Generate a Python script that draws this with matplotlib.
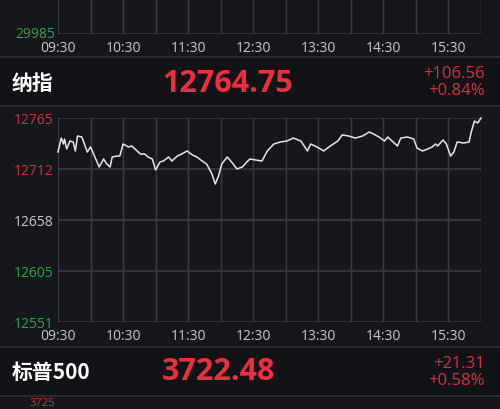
import matplotlib
matplotlib.use("Agg")
import matplotlib.pyplot as plt

# ---------------- data ----------------
minutes = [0, 3, 5, 6, 8, 11, 14, 16, 18, 22, 27, 30, 34, 38, 42, 45, 48, 50, 54, 57,
           60, 65, 68, 73, 76, 80, 83, 87, 90, 94, 97, 102, 105, 110, 114, 119, 124, 128,
           133, 137, 142, 145, 148, 151, 156, 160, 165, 170, 174, 177, 188, 193, 199, 205,
           211, 217, 224, 230, 233, 237, 242, 245, 251, 258, 262, 268, 274, 281, 287, 291,
           296, 301, 304, 308, 313, 316, 322, 328, 331, 336, 341, 345, 348, 350, 355, 358,
           362, 365, 368, 374, 379, 381, 384, 387, 390]
nasdaq = [12729.2, 12743.8, 12737.6, 12742.8, 12732.4, 12740.7, 12739.7, 12730.3, 12746.0,
          12744.9, 12729.2, 12734.5, 12724.0, 12713.6, 12721.9, 12716.7, 12713.6, 12724.0,
          12725.0, 12725.0, 12737.6, 12734.5, 12735.5, 12730.3, 12727.1, 12727.1, 12724.0,
          12721.9, 12710.4, 12718.8, 12719.8, 12724.0, 12719.8, 12725.0, 12727.1, 12730.3,
          12726.1, 12724.0, 12719.8, 12716.7, 12706.2, 12695.8, 12704.2, 12716.7, 12724.0,
          12718.8, 12711.5, 12713.6, 12718.8, 12721.9, 12719.8, 12730.3, 12737.6, 12739.7,
          12740.7, 12743.8, 12740.7, 12730.3, 12737.6, 12735.5, 12732.4, 12730.3, 12735.5,
          12740.7, 12747.0, 12746.0, 12743.8, 12746.0, 12750.1, 12748.0, 12744.9, 12740.7,
          12744.9, 12740.7, 12735.5, 12743.8, 12744.9, 12742.8, 12733.4, 12730.3, 12732.4,
          12734.5, 12737.6, 12735.5, 12741.8, 12737.6, 12725.0, 12729.2, 12739.7, 12738.6,
          12739.7, 12750.1, 12761.6, 12759.5, 12764.75]
prev_close = 12658.19
y_ticks = [12551.63, 12604.91, 12658.19, 12711.47, 12764.75]
y_labels = ["12551", "12605", "12658", "12712", "12765"]
x_labels = ["09:30", "10:30", "11:30", "12:30", "13:30", "14:30", "15:30"]

nq_name, nq_value, nq_change, nq_pct = "纳指", "12764.75", "+106.56", "+0.84%"
sp_name, sp_value, sp_change, sp_pct = "标普500", "3722.48", "+21.31", "+0.58%"
dow_bottom_label = "29985"
sp_top_label = "3725"

# ---------------- style ----------------
BG = "#16171c"
HDR = "#121317"
GRID = "#3a3b40"
SEP = "#2b2c31"
RED = "#ee2f3b"
RED_AX = "#d8313c"
GREEN = "#2fa346"
TICK = "#c9c9c9"
NUM_FONT = ["Open Sans", "DejaVu Sans"]
CJK = ["Noto Sans CJK SC", "DejaVu Sans"]

W, H = 500, 410
fig = plt.figure(figsize=(W / 100, H / 100), dpi=100, facecolor=BG)


def fy(py):
    return 1 - py / H


def fx(px):
    return px / W


def band(y0, y1, color):
    fig.patches.append(plt.Rectangle((0, fy(y1)), 1, (y1 - y0) / H, transform=fig.transFigure,
                                     facecolor=color, edgecolor="none", zorder=0))


band(59, 107, HDR)
band(349, 397, HDR)
for yy in (58, 107, 348, 397):
    band(yy - 1, yy + 1, SEP)

half_hours = list(range(0, 391, 30))
hours = list(range(0, 361, 60))

# ---------------- top partial chart (Dow) ----------------
ax0 = fig.add_axes([fx(58), fy(35), fx(481) - fx(58), 60 / H])
ax0.set_facecolor(BG)
ax0.set_xlim(0, 390)
ax0.set_ylim(0, 1)
for s in ax0.spines.values():
    s.set_visible(False)
for m in half_hours:
    ax0.axvline(m, color=GRID, lw=1)
ax0.axhline(0, color=GRID, lw=1.2)
ax0.set_xticks(hours)
ax0.set_xticklabels(x_labels, color=TICK, fontsize=10, family=NUM_FONT)
ax0.set_yticks([])
ax0.tick_params(length=0, pad=4)
fig.text(fx(55), fy(35), dow_bottom_label, color=GREEN, fontsize=10, family=NUM_FONT,
         ha="right", va="center")

# ---------------- Nasdaq header ----------------
fig.text(fx(12), fy(84), nq_name, color="white", fontsize=15, fontweight="bold",
         family=CJK, ha="left", va="center")
fig.text(fx(162), fy(84), nq_value, color=RED, fontsize=22, fontweight="bold",
         family=NUM_FONT, ha="left", va="center")
fig.text(fx(485), fy(74), nq_change, color=RED_AX, fontsize=12, family=NUM_FONT,
         ha="right", va="center")
fig.text(fx(485), fy(91), nq_pct, color=RED_AX, fontsize=12, family=NUM_FONT,
         ha="right", va="center")

# ---------------- Nasdaq chart ----------------
ax = fig.add_axes([fx(58), fy(323), fx(481) - fx(58), (323 - 119) / H])
ax.set_facecolor(BG)
ax.set_xlim(0, 390)
ax.set_ylim(y_ticks[0], y_ticks[-1])
for s in ax.spines.values():
    s.set_visible(False)
for m in half_hours:
    ax.axvline(m, color=GRID, lw=1, zorder=1)
for v in y_ticks:
    ax.axhline(v, color=GRID, lw=1.2, zorder=1)
ax.plot(minutes, nasdaq, color="#e6e6e6", lw=1.1, zorder=3, clip_on=False)
ax.set_xticks(hours)
ax.set_xticklabels(x_labels, color=TICK, fontsize=10, family=NUM_FONT)
ax.set_yticks(y_ticks)
ax.set_yticklabels(y_labels, fontsize=10, family=NUM_FONT)
for lab, v in zip(ax.get_yticklabels(), y_ticks):
    if v > prev_close + 1:
        lab.set_color(RED_AX)
    elif v < prev_close - 1:
        lab.set_color(GREEN)
    else:
        lab.set_color(TICK)
ax.tick_params(length=0, pad=3)
ax.tick_params(axis="x", pad=4)

# ---------------- S&P header ----------------
fig.text(fx(12), fy(372), sp_name, color="white", fontsize=15, fontweight="bold",
         family=CJK, ha="left", va="center")
fig.text(fx(162), fy(372), sp_value, color=RED, fontsize=22, fontweight="bold",
         family=NUM_FONT, ha="left", va="center")
fig.text(fx(485), fy(364), sp_change, color=RED_AX, fontsize=12, family=NUM_FONT,
         ha="right", va="center")
fig.text(fx(485), fy(381), sp_pct, color=RED_AX, fontsize=12, family=NUM_FONT,
         ha="right", va="center")
fig.text(fx(55), fy(409.5), sp_top_label, color=RED_AX, fontsize=8, family=NUM_FONT,
         ha="right", va="bottom")

fig.savefig("out.png", dpi=100, facecolor=BG)
